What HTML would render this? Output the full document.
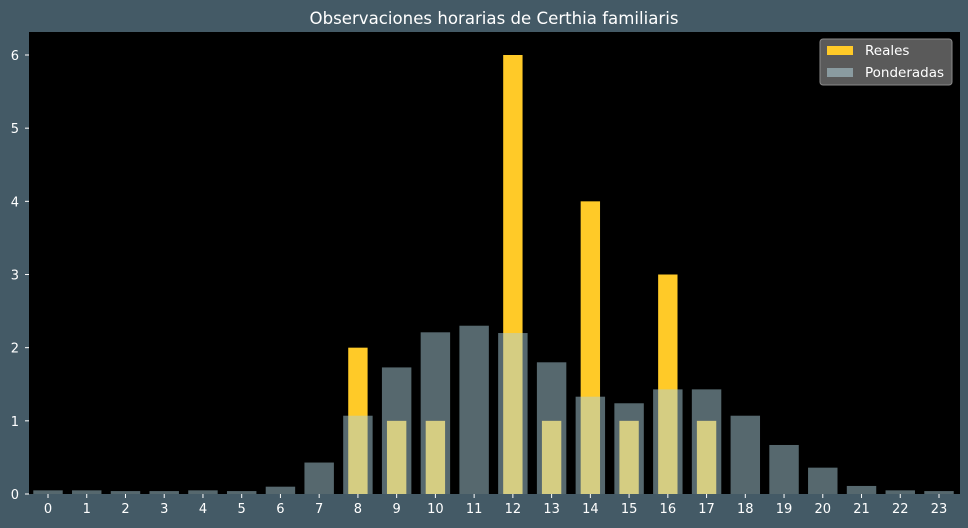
<!DOCTYPE html>
<html><head><meta charset="utf-8"><style>
html,body{margin:0;padding:0;background:#445a66;}
svg{display:block;font-family:"DejaVu Sans","Liberation Sans",sans-serif;}
</style></head><body>
<svg id="chart" width="968" height="528">
<rect x="0" y="0" width="968" height="528" fill="#445a66"/>
<text x="494" y="24" text-anchor="middle" fill="#ffffff" font-size="16.6">Observaciones horarias de Certhia familiaris</text>
<rect x="29" y="32" width="931" height="462" fill="#000000"/>
<g id="bars"></g>
<g id="axes"></g>
<g>
<rect x="820" y="39" width="132" height="46" rx="3" fill="#5a5a5a" stroke="#8a8a8a" stroke-width="1"/>
<rect x="827" y="46" width="26" height="9" fill="#ffca28"/>
<text x="865" y="55" fill="#ffffff" font-size="13.5">Reales</text>
<rect x="827" y="68" width="26" height="9" fill="#8a9ba0"/>
<text x="865" y="77" fill="#ffffff" font-size="13.5">Ponderadas</text>
</g>
</svg>
<script>
const hours = [0,1,2,3,4,5,6,7,8,9,10,11,12,13,14,15,16,17,18,19,20,21,22,23];
const realValues = [0,0,0,0,0,0,0,0,2,1,1,0,6,1,4,1,3,1,0,0,0,0,0,0];
const weightedValues = [0.05,0.05,0.04,0.04,0.05,0.04,0.1,0.43,1.07,1.73,2.21,2.3,2.2,1.8,1.33,1.24,1.43,1.43,1.07,0.67,0.36,0.11,0.05,0.04];
const yTicks = [0,1,2,3,4,5,6];

const NS = "http://www.w3.org/2000/svg";
const x = h => 48 + h * (939 - 48) / 23;
const y = v => 494 - v * (494 - 55) / 6;
const step = (939 - 48) / 23;
const bars = document.getElementById('bars');
const axes = document.getElementById('axes');

realValues.forEach((v, i) => {
  if (v <= 0) return;
  const r = document.createElementNS(NS, 'rect');
  const w = step * 0.5;
  r.setAttribute('x', x(hours[i]) - w / 2);
  r.setAttribute('y', y(v));
  r.setAttribute('width', w);
  r.setAttribute('height', y(0) - y(v));
  r.setAttribute('fill', '#ffca28');
  
  
  bars.appendChild(r);
});
weightedValues.forEach((v, i) => {
  const r = document.createElementNS(NS, 'rect');
  const w = step * 0.76;
  r.setAttribute('x', x(hours[i]) - w / 2);
  r.setAttribute('y', y(v));
  r.setAttribute('width', w);
  r.setAttribute('height', y(0) - y(v));
  r.setAttribute('fill', 'rgba(172,208,220,0.5)');
  
  
  bars.appendChild(r);
});
hours.forEach(h => {
  const t = document.createElementNS(NS, 'line');
  t.setAttribute('x1', x(h)); t.setAttribute('x2', x(h));
  t.setAttribute('y1', 494); t.setAttribute('y2', 498);
  t.setAttribute('stroke', '#ffffff');
  
  
  axes.appendChild(t);
  const l = document.createElementNS(NS, 'text');
  l.setAttribute('x', x(h)); l.setAttribute('y', 513);
  l.setAttribute('text-anchor', 'middle');
  l.setAttribute('fill', '#ffffff'); l.setAttribute('font-size', '13');
  
  
  l.textContent = h;
  axes.appendChild(l);
});
yTicks.forEach(v => {
  const t = document.createElementNS(NS, 'line');
  t.setAttribute('x1', 25); t.setAttribute('x2', 29);
  t.setAttribute('y1', y(v)); t.setAttribute('y2', y(v));
  t.setAttribute('stroke', '#ffffff');
  
  
  axes.appendChild(t);
  const l = document.createElementNS(NS, 'text');
  l.setAttribute('x', 19); l.setAttribute('y', y(v) + 5);
  l.setAttribute('text-anchor', 'end');
  l.setAttribute('fill', '#ffffff'); l.setAttribute('font-size', '13');
  
  
  l.textContent = v;
  axes.appendChild(l);
});
</script>
</body></html>
